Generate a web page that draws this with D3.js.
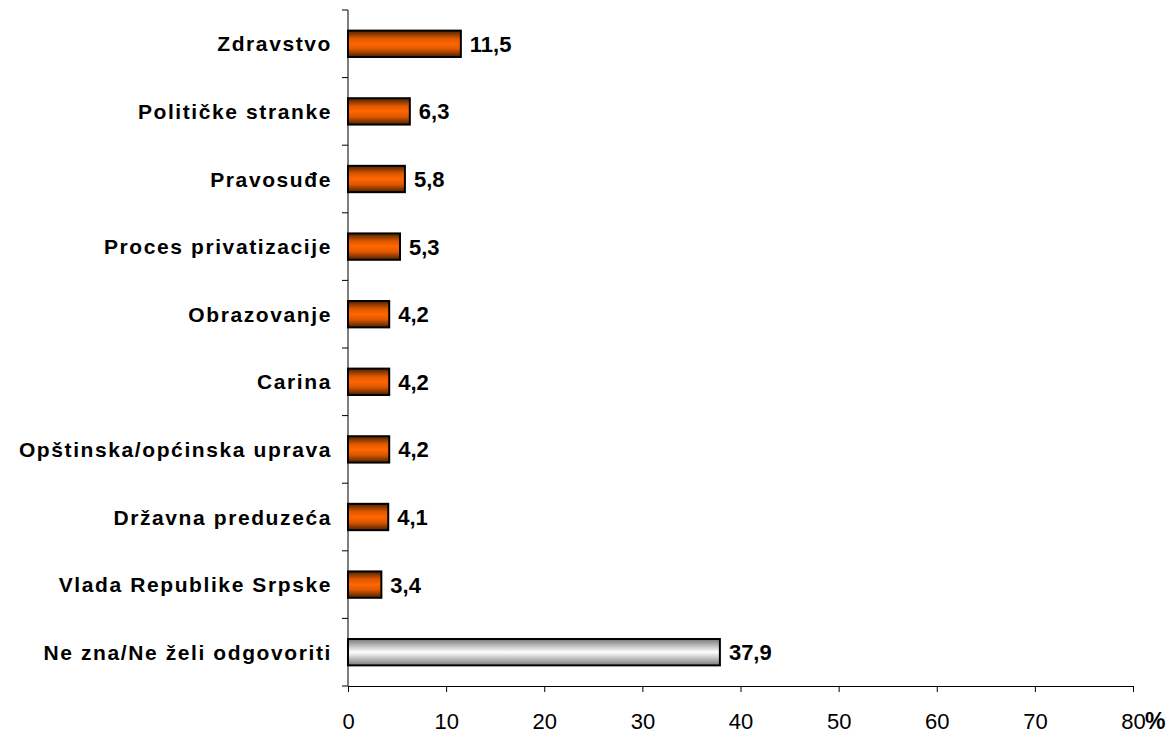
<!DOCTYPE html>
<html>
<head>
<meta charset="utf-8">
<script src="https://cdn.jsdelivr.net/npm/d3@7"></script>
<style>
  body { margin: 0; background: #fff; }
  text { font-family: Arial, "Liberation Sans", sans-serif; }
</style>
</head>
<body>
<div id="chart"></div>
<script>
// kategorije i vrijednosti (%)
const categories = [
  "Zdravstvo", "Političke stranke", "Pravosuđe", "Proces privatizacije",
  "Obrazovanje", "Carina", "Opštinska/općinska uprava", "Državna preduzeća",
  "Vlada Republike Srpske", "Ne zna/Ne želi odgovoriti"
];
const values = [11.5, 6.3, 5.8, 5.3, 4.2, 4.2, 4.2, 4.1, 3.4, 37.9];
const xTicks = [0, 10, 20, 30, 40, 50, 60, 70, 80];

const width = 1176, height = 733;
const margin = { top: 10, right: 43, bottom: 47, left: 348 };

const svg = d3.select("#chart").append("svg")
  .attr("width", width)
  .attr("height", height);

const defs = svg.append("defs");
const orange = defs.append("linearGradient")
  .attr("id", "gOrange").attr("x1", 0).attr("y1", 0).attr("x2", 0).attr("y2", 1);
[[0, "#4a2200"], [0.3, "#e05800"], [0.5, "#ff6600"], [0.7, "#e05800"], [1, "#4a2200"]]
  .forEach(s => orange.append("stop").attr("offset", s[0]).attr("stop-color", s[1]));
const grey = defs.append("linearGradient")
  .attr("id", "gGrey").attr("x1", 0).attr("y1", 0).attr("x2", 0).attr("y2", 1);
[[0, "#7a7a7a"], [0.5, "#ffffff"], [1, "#7a7a7a"]]
  .forEach(s => grey.append("stop").attr("offset", s[0]).attr("stop-color", s[1]));

const x = d3.scaleLinear().domain([0, 80]).range([margin.left, width - margin.right]);
const y = d3.scaleBand().domain(categories)
  .range([margin.top, height - margin.bottom])
  .paddingInner(0.61).paddingOuter(0.305);

// x osa
const xAxis = svg.append("g")
  .attr("transform", `translate(0,${height - margin.bottom})`)
  .call(d3.axisBottom(x).tickValues(xTicks).tickSize(6).tickSizeOuter(0).tickPadding(21));
xAxis.select(".domain").attr("stroke", "#000");
xAxis.selectAll(".tick line").attr("stroke", "#000");
xAxis.selectAll(".tick text")
  .attr("font-size", "22px").attr("fill", "#000")
  .style("font-family", "Arial, 'Liberation Sans', sans-serif");

// znak % iza 80
svg.append("text")
  .attr("x", x(80) + 12)
  .attr("y", 729)
  .attr("font-size", "23px").attr("font-weight", "bold")
  .attr("fill", "#000")
  .text("%");

// y osa
const yAxis = svg.append("g").attr("transform", `translate(${margin.left},0)`);
yAxis.append("line")
  .attr("x1", 0).attr("x2", 0)
  .attr("y1", margin.top).attr("y2", height - margin.bottom)
  .attr("stroke", "#000");
const step = y.step();
d3.range(categories.length + 1).forEach(i => {
  yAxis.append("line")
    .attr("x1", -6).attr("x2", 0)
    .attr("y1", margin.top + i * step).attr("y2", margin.top + i * step)
    .attr("stroke", "#000");
});

// nazivi kategorija
svg.append("g").selectAll("text")
  .data(categories)
  .join("text")
  .attr("x", 332)
  .attr("y", d => y(d) + y.bandwidth() / 2)
  .attr("dy", "0.36em")
  .attr("text-anchor", "end")
  .attr("font-size", "21px")
  .attr("font-weight", "bold")
  .attr("letter-spacing", "1.6px")
  .attr("fill", "#000")
  .text(d => d);

// stubci
svg.append("g").selectAll("rect")
  .data(values)
  .join("rect")
  .attr("x", x(0))
  .attr("y", (d, i) => y(categories[i]))
  .attr("width", d => x(d) - x(0))
  .attr("height", y.bandwidth())
  .attr("fill", (d, i) => i === categories.length - 1 ? "url(#gGrey)" : "url(#gOrange)")
  .attr("stroke", "#000")
  .attr("stroke-width", 2);

// vrijednosti
svg.append("g").selectAll("text")
  .data(values)
  .join("text")
  .attr("x", d => x(d) + 9)
  .attr("y", (d, i) => y(categories[i]) + y.bandwidth() / 2)
  .attr("dy", "0.36em")
  .attr("font-size", "22px")
  .attr("font-weight", "bold")
  .attr("fill", "#000")
  .text(d => d.toFixed(1).replace(".", ","));
</script>
</body>
</html>
